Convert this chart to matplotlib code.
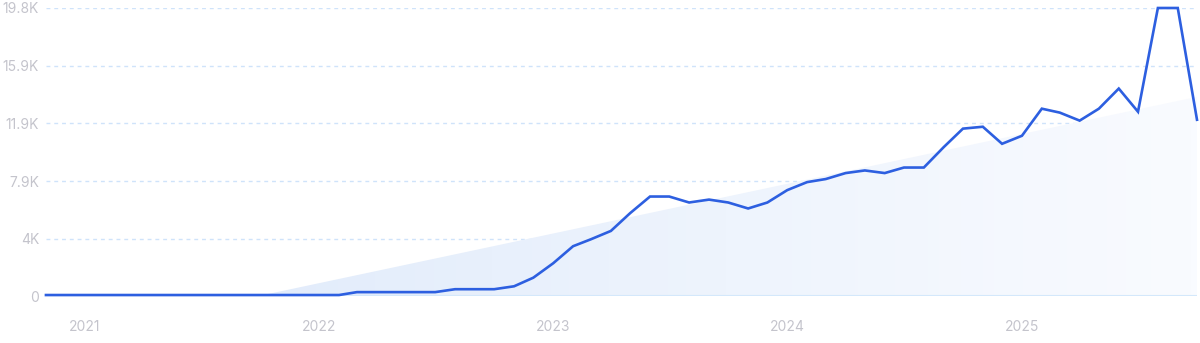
import matplotlib
matplotlib.use("Agg")
import matplotlib.pyplot as plt
import matplotlib.dates as mdates
from matplotlib.colors import LinearSegmentedColormap
from matplotlib.patches import Polygon
import numpy as np
import pandas as pd

plt.rcParams["font.family"] = ["Inter", "DejaVu Sans"]

# Monthly search volume, Nov 2020 - Oct 2025
months = pd.date_range("2020-11-01", periods=60, freq="MS")
volume = [100] * 16 + [300] * 5 + [500] * 3 + [
    700, 1290, 2280, 3450, 3930, 4500, 5720, 6860, 6860, 6450,
    6650, 6450, 6040, 6450, 7300, 7850, 8060, 8470, 8650, 8470,
    8850, 8850, 10250, 11520, 11650, 10480, 11030, 12890, 12620, 12070,
    12890, 14270, 12680, 19800, 19800, 12130,
]

# Trend band (start / end)
trend_dates = pd.to_datetime(["2021-09-25", "2025-10-01"])
trend_values = [0, 13700]

yticks = [0, 3960, 7920, 11880, 15840, 19800]
ytick_labels = ["0", "4K", "7.9K", "11.9K", "15.9K", "19.8K"]
year_ticks = pd.to_datetime(["2021-01-01", "2022-01-01", "2023-01-01", "2024-01-01", "2025-01-01"])
year_labels = ["2021", "2022", "2023", "2024", "2025"]

fig = plt.figure(figsize=(12, 3.43), dpi=100)
ax = fig.add_axes([0.0383, 0.1356, 0.9592, 0.8411])

x0 = mdates.date2num(months[0])
x1 = mdates.date2num(months[-1])
ax.set_xlim(x0, x1)
ax.set_ylim(0, 19800)

# gradient trend area
tx = mdates.date2num(trend_dates)
poly = Polygon([(tx[0], trend_values[0]), (tx[1], trend_values[1]), (tx[1], 0)],
               closed=True, facecolor="none", edgecolor="none")
ax.add_patch(poly)
cmap = LinearSegmentedColormap.from_list("fade", ["#e2ecfb", "#eef4fd", "#f9fbff"])
grad = np.linspace(0, 1, 256).reshape(1, -1)
im = ax.imshow(grad, cmap=cmap, aspect="auto", extent=[tx[0], tx[1], 0, trend_values[1]],
               origin="lower", zorder=1, interpolation="bilinear")
im.set_clip_path(poly)

# grid
for v in yticks[1:]:
    ax.axhline(v, color="#cfe3fa", lw=1, ls=(0, (2.8, 2.8)), zorder=0.5)
ax.axhline(0, color="#d4e8fb", lw=1.5, zorder=2)

ax.plot(months, volume, color="#2d5fe0", lw=1.9, zorder=3, clip_on=False,
        solid_joinstyle="miter")

for s in ax.spines.values():
    s.set_visible(False)

ax.set_yticks(yticks)
ax.set_yticklabels(ytick_labels)
ax.set_xticks(year_ticks)
ax.set_xticklabels(year_labels)
ax.tick_params(axis="both", length=0, colors="#c4c4cc", labelsize=10)
ax.tick_params(axis="y", pad=5)
ax.tick_params(axis="x", pad=17)

fig.savefig("out.png", dpi=100)
